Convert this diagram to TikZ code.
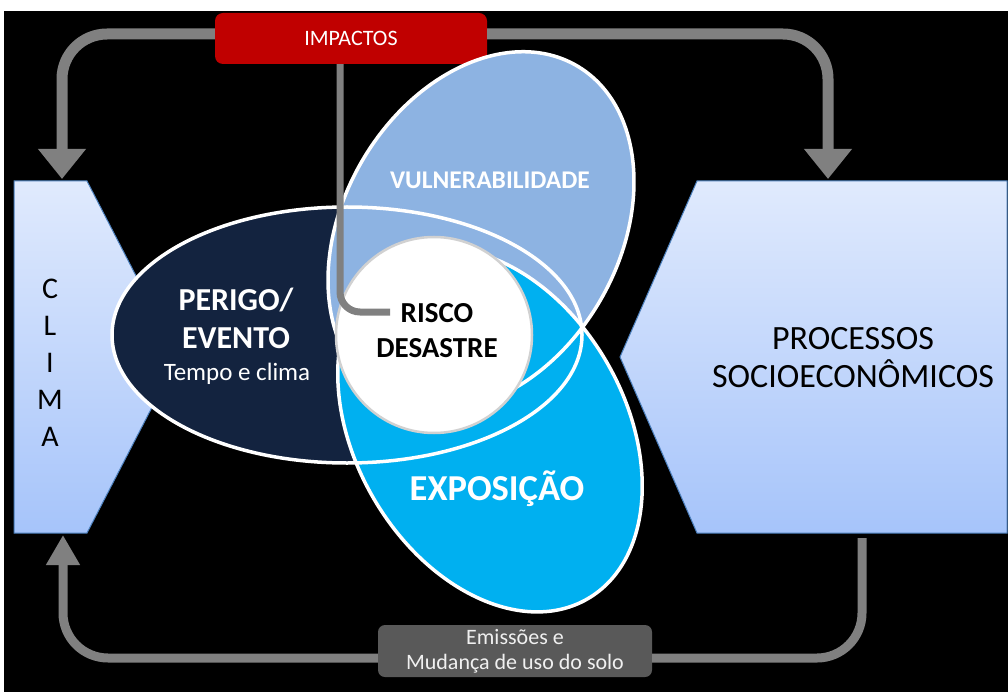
\documentclass[tikz,border=0pt]{standalone}
\usepackage{fontspec}
\setmainfont{Carlito}
\usetikzlibrary{arrows.meta}
\definecolor{navyfill}{HTML}{13233F}
\definecolor{vulnfill}{HTML}{8DB3E2}
\definecolor{expofill}{HTML}{00B0F0}
\definecolor{impred}{HTML}{C00000}
\definecolor{boxtop}{HTML}{E0EAFD}
\definecolor{boxbot}{HTML}{A6C4FA}
\definecolor{boxedge}{HTML}{4A7EBB}
\definecolor{arrowgray}{HTML}{808080}
\definecolor{emisgray}{HTML}{595959}

\tikzset{
	txt/.style={inner sep=0pt, text=white},
	sidebox/.style={top color=boxtop, bottom color=boxbot, draw=boxedge, line width=1pt},
	ring/.style={draw=white, line width=3.5pt},
	bigarrow/.style={draw=arrowgray, line width=11pt, rounded corners=45pt, -{Triangle[width=46pt,length=30pt]}},
	lowline/.style={draw=arrowgray, line width=9pt, rounded corners=45pt},
	impline/.style={draw=arrowgray, line width=7pt, rounded corners=20pt}
}

\begin{document}
\begin{tikzpicture}[x=1pt,y=-1pt]
	%%%%% START %%%%%
	\useasboundingbox (0,0) rectangle (1008,692);
	\fill[white] (0,0) rectangle (1008,692);
	\fill[black] (4,11) rectangle (1008,692);
	
	% clima / processos
	\shadedraw[sidebox] (14,181) -- (87,181) -- (178,357) -- (87,533) -- (14,533) -- cycle;
	\shadedraw[sidebox] (697,181) -- (1007,181) -- (1007,533) -- (697,533) -- (620,357) -- cycle;
	\node[txt, text=black, font=\fontsize{30}{37}\selectfont, align=center] (clima) at (50,363) {C\\L\\I\\M\\A};
	\node[txt, text=black, font=\fontsize{34}{38}\selectfont, align=center] (processos) at (853,358) {PROCESSOS\\SOCIOECON\^OMICOS};
	\coordinate (climaN) at (62,179);
	\coordinate (climaS) at (63,535);
	\coordinate (procN) at (828,179);
	\coordinate (procS) at (862,538);
	
	% top loop
	\node[fill=impred, rounded corners=8pt, minimum width=272pt, minimum height=51pt, inner sep=0pt, text=white, font=\fontsize{22}{25}\selectfont] (impactos) at (351,38.5) {IMPACTOS};
	\draw[bigarrow] ([yshift=4.5pt]impactos.west) -| (climaN);
	\draw[bigarrow] ([yshift=4.5pt]impactos.east) -| (procN);
	
	% bottom loop
	\node[fill=emisgray, rounded corners=7pt, minimum width=274pt, minimum height=52pt, inner sep=0pt, text=white!94!black, align=center, font=\fontsize{22}{25}\selectfont] (emissoes) at (515,651) {Emissões e\\Mudança de uso do solo};
	\draw[lowline] (procS) |- ([yshift=-7pt]emissoes.east);
	\draw[lowline, -{Triangle[width=32pt,length=30pt]}] ([yshift=-7pt]emissoes.west) -| (climaS);
	
	% venn
	\fill[navyfill] (347,335) ellipse [x radius=235, y radius=128];
	\fill[vulnfill, rotate around={60:(481,231)}] (481,231) ellipse [x radius=191, y radius=138];
	\fill[expofill, rotate around={-60:(490,430)}] (490,430) ellipse [x radius=195, y radius=135];
	\draw[ring] (347,335) ellipse [x radius=235, y radius=128];
	\draw[ring, rotate around={60:(481,231)}] (481,231) ellipse [x radius=191, y radius=138];
	\draw[ring, rotate around={-60:(490,430)}] (490,430) ellipse [x radius=195, y radius=135];
	\node[circle, fill=white, draw=black!18, line width=2.5pt, minimum size=196pt, inner sep=0pt] (risco) at (434,335) {};
	
	\node[txt, font=\bfseries\fontsize{32}{38}\selectfont, align=center] (perigo) at (236,318) {PERIGO/\\EVENTO};
	\node[txt, anchor=base, font=\fontsize{25}{28}\selectfont] (tempo) at (237,380) {Tempo e clima};
	\node[txt, anchor=base, font=\bfseries\fontsize{25.5}{28}\selectfont] (vuln) at (490,189) {VULNERABILIDADE};
	\node[txt, anchor=base, font=\bfseries\fontsize{36.5}{40}\selectfont] (expo) at (497,500) {EXPOSIÇÃO};
	\node[txt, text=black, font=\bfseries\fontsize{29}{35}\selectfont, align=center] (riscotxt) at (437,331) {RISCO\\DESASTRE};
	
	\coordinate (riscoW) at (390,312);
	\draw[impline] ([xshift=-11pt]impactos.south) |- (riscoW);
	%%%%% END %%%%%
\end{tikzpicture}
\end{document}
